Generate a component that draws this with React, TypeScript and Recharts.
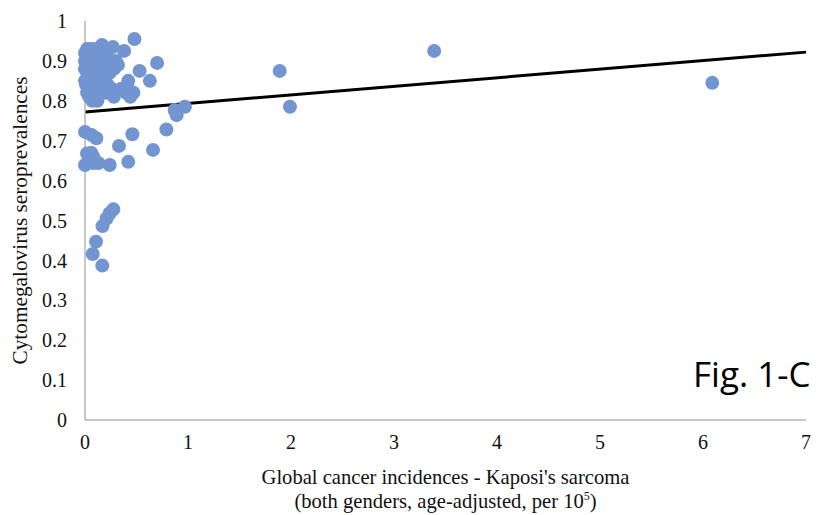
import React from "react";
import {
  ScatterChart,
  Scatter,
  XAxis,
  YAxis,
  ReferenceLine,
} from "recharts";

// Kaposi's sarcoma incidence (per 10^5) for each country
const kaposiIncidence: number[] = [
  0.0, 0.02, 0.05, 0.08, 0.1, 0.0, 0.03, 0.06, 0.0, 0.02, 0.04, 0.08, 0.0, 0.01,
  0.05, 0.1, 0.12, 0.15, 0.18, 0.22, 0.25, 0.3, 0.2, 0.24, 0.28, 0.32, 0.15,
  0.18, 0.22, 0.26, 0.13, 0.16, 0.2, 0.25, 0.28, 0.04, 0.07, 0.1, 0.12, 0.02,
  0.06, 0.09, 0.35, 0.4, 0.44, 0.42, 0.47, 0.165, 0.27, 0.38, 0.48, 0.7, 0.53,
  0.42, 0.63,
  1.89, 3.39, 6.09, 1.99, 0.97, 0.87, 0.89, 0.79, 0.46, 0.33, 0.66, 0.42, 0.24,
  0.0, 0.065, 0.11, 0.02, 0.08, 0.0, 0.08, 0.13, 0.04, 0.06,
  0.275, 0.24, 0.21, 0.17, 0.107, 0.075, 0.168,
];

// Cytomegalovirus seroprevalence for each country (same order)
const cmvSeroprevalence: number[] = [
  0.92, 0.93, 0.93, 0.93, 0.92, 0.9, 0.89, 0.91, 0.88, 0.87, 0.86, 0.88, 0.85,
  0.84, 0.84, 0.86, 0.89, 0.9, 0.91, 0.91, 0.9, 0.9, 0.88, 0.87, 0.88, 0.89,
  0.87, 0.85, 0.84, 0.83, 0.83, 0.82, 0.82, 0.82, 0.81, 0.81, 0.8, 0.81, 0.8,
  0.82, 0.83, 0.84, 0.83, 0.82, 0.81, 0.83, 0.82, 0.94, 0.935, 0.925, 0.955,
  0.895, 0.875, 0.85, 0.85,
  0.875, 0.925, 0.845, 0.785, 0.785, 0.777, 0.764, 0.728, 0.716, 0.687, 0.677,
  0.647, 0.639,
  0.722, 0.714, 0.706, 0.668, 0.66, 0.639, 0.644, 0.644, 0.65, 0.67,
  0.528, 0.518, 0.505, 0.486, 0.447, 0.416, 0.387,
];

// Linear trend line end points
const trendX: number[] = [0, 7];
const trendY: number[] = [0.772, 0.922];

const xTicks: number[] = [0, 1, 2, 3, 4, 5, 6, 7];
const yTicks: number[] = [0, 0.1, 0.2, 0.3, 0.4, 0.5, 0.6, 0.7, 0.8, 0.9, 1];

const xTitle1 = "Global cancer incidences - Kaposi's sarcoma";
const xTitle2 = "(both genders, age-adjusted, per 10";
const yTitle = "Cytomegalovirus seroprevalences";
const figLabel = "Fig. 1-C";

const points = kaposiIncidence.map((x, i) => ({ x, y: cmvSeroprevalence[i] }));

const SERIF = "'Liberation Serif', 'Times New Roman', serif";
const AXIS_COLOR = "#b4b4b4";
const DOT_COLOR = "#7295d2";

const Dot = (props: any) => (
  <circle cx={props.cx} cy={props.cy} r={7} fill={DOT_COLOR} />
);

const XTitle = (props: any) => {
  const vb = props.viewBox || { x: 0, y: 0, width: 0, height: 0 };
  const cx = vb.x + vb.width / 2;
  return (
    <g>
      <text x={cx} y={vb.y + 64} textAnchor="middle" fontFamily={SERIF} fontSize={20.6} fill="#111">
        {xTitle1}
      </text>
      <text x={cx} y={vb.y + 88} textAnchor="middle" fontFamily={SERIF} fontSize={20.6} fill="#111">
        {xTitle2}
        <tspan fontSize={12} dy={-8}>5</tspan>
        <tspan dy={8}>)</tspan>
      </text>
    </g>
  );
};

const YTitle = (props: any) => {
  const vb = props.viewBox || { x: 0, y: 0, width: 0, height: 0 };
  const cx = 20;
  const cy = vb.y + vb.height / 2;
  return (
    <text
      x={cx}
      y={cy}
      dy="0.35em"
      transform={`rotate(-90, ${cx}, ${cy})`}
      textAnchor="middle"
      fontFamily={SERIF}
      fontSize={21.3}
      fill="#111"
    >
      {yTitle}
    </text>
  );
};

export default function App() {
  return (
    <div style={{ position: "absolute", left: 0, top: 0, width: 819, height: 515, background: "#fff" }}>
      <ScatterChart
        width={819}
        height={515}
        margin={{ top: 21, right: 13, left: 0, bottom: 0 }}
      >
        <XAxis
          type="number"
          dataKey="x"
          domain={[0, 7]}
          ticks={xTicks}
          interval={0}
          height={95}
          tickLine={false}
          tickSize={0}
          tickMargin={15}
          axisLine={{ stroke: AXIS_COLOR, strokeWidth: 1.5 }}
          tick={{ fontFamily: SERIF, fontSize: 20, fill: "#111" }}
          label={{ content: XTitle }}
        />
        <YAxis
          type="number"
          dataKey="y"
          domain={[0, 1]}
          ticks={yTicks}
          interval={0}
          width={85}
          tickLine={false}
          tickSize={0}
          tickMargin={18}
          tickFormatter={(v: number) => String(Math.round(v * 10) / 10)}
          axisLine={{ stroke: AXIS_COLOR, strokeWidth: 1.5 }}
          tick={{ fontFamily: SERIF, fontSize: 20, fill: "#111" }}
          label={{ content: YTitle }}
        />
        <Scatter data={points} shape={Dot} isAnimationActive={false} />
        <ReferenceLine
          segment={[
            { x: trendX[0], y: trendY[0] },
            { x: trendX[1], y: trendY[1] },
          ]}
          stroke="#000"
          strokeWidth={3}
          ifOverflow="visible"
        />
      </ScatterChart>
      <div
        style={{
          position: "absolute",
          left: 693,
          top: 351,
          fontFamily: "'Open Sans', sans-serif",
          fontSize: 35,
          lineHeight: "46px",
          color: "#000",
          whiteSpace: "nowrap",
        }}
      >
        {figLabel}
      </div>
    </div>
  );
}
